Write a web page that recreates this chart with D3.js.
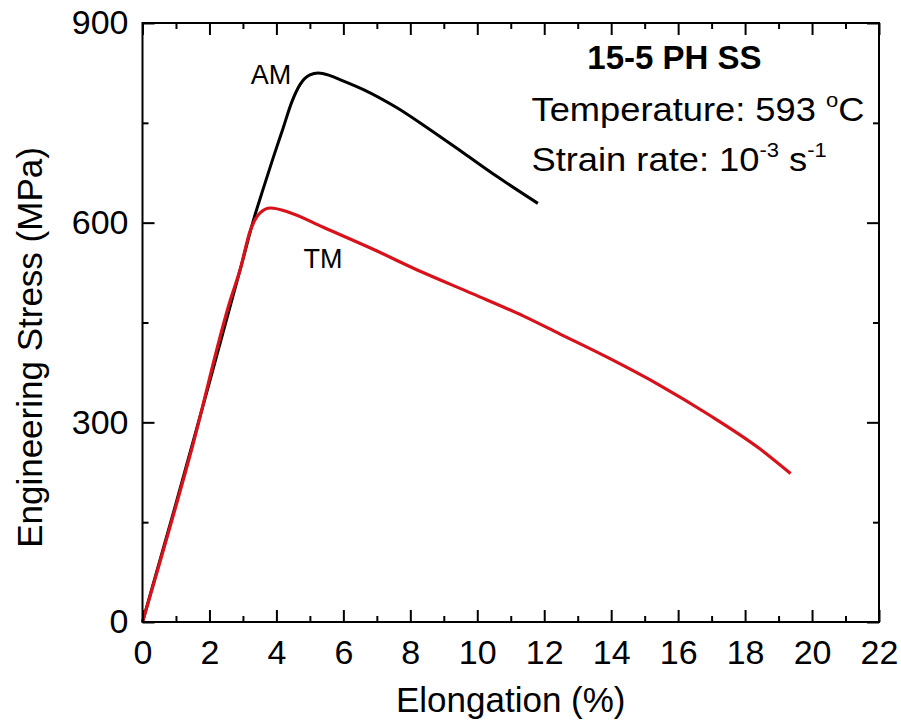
<!DOCTYPE html>
<html lang="en">
<head>
  <meta charset="UTF-8">
  <title>15-5 PH SS</title>
  <style>
    body { margin: 0; background: #fff; }
    svg { display: block; font-family: Arial, "Liberation Sans", sans-serif; }
  </style>
</head>
<body>
  <script src="https://d3js.org/d3.v7.min.js"></script>
  <script>
    // AM (as machined) curve
    const amElong  = [0, 1.0, 2.0, 3.0, 3.31, 3.6, 3.9, 4.2, 4.45, 4.7, 5.0, 5.25, 5.6, 5.9, 6.6, 7.59, 8.58, 9.58, 10.57, 11.81]
    const amStress = [0, 178, 360, 545, 603, 650, 697, 742, 780, 807, 822, 825, 821, 815, 800, 773, 740, 705, 670, 629]

    // TM curve
    const tmElong  = [0, 1.46, 2.62, 2.92, 3.22, 3.52, 3.82, 4.41, 5.4, 6.89, 8.38, 9.87, 11.37, 12.46, 13.95, 15.44, 16.93, 18.42, 19.36]
    const tmStress = [0, 258, 483, 530, 588, 615, 622, 615, 593, 560, 525, 493, 460, 433, 396, 356, 311, 261, 223]

    const xTicks = [0, 2, 4, 6, 8, 10, 12, 14, 16, 18, 20, 22]
    const xMinor = [1, 3, 5, 7, 9, 11, 13, 15, 17, 19, 21]
    const yTicks = [0, 300, 600, 900]
    const yMinor = [150, 450, 750]

    const width = 901, height = 721
    const m = { left: 142.5, right: 22, top: 23, bottom: 99 }

    const x = d3.scaleLinear().domain([0, 22]).range([m.left, width - m.right])
    const y = d3.scaleLinear().domain([0, 900]).range([height - m.bottom, m.top])

    const svg = d3.select('body').append('svg')
      .attr('width', width)
      .attr('height', height)

    const line = d3.line()
      .x(d => x(d[0]))
      .y(d => y(d[1]))
      .curve(d3.curveMonotoneX)

    const am = amElong.map((e, i) => [e, amStress[i]])
    const tm = tmElong.map((e, i) => [e, tmStress[i]])

    svg.append('path')
      .datum(am)
      .attr('fill', 'none')
      .attr('stroke', '#000')
      .attr('stroke-width', 3)
      .attr('d', line)

    svg.append('path')
      .datum(tm)
      .attr('fill', 'none')
      .attr('stroke', '#d8121b')
      .attr('stroke-width', 3.2)
      .attr('d', line)

    // axes: ticks inward on all four sides
    const tickFont = 34
    const axBottom = svg.append('g').attr('transform', `translate(0,${y(0)})`)
    axBottom.call(d3.axisBottom(x).tickValues(xTicks).tickSizeInner(-12).tickSizeOuter(0).tickPadding(18))
    axBottom.append('g').call(d3.axisBottom(x).tickValues(xMinor).tickSize(-6).tickFormat(''))

    const axTop = svg.append('g').attr('transform', `translate(0,${y(900)})`)
    axTop.call(d3.axisTop(x).tickValues(xTicks).tickSize(-12).tickFormat(''))
    axTop.append('g').call(d3.axisTop(x).tickValues(xMinor).tickSize(-6).tickFormat(''))

    const axLeft = svg.append('g').attr('transform', `translate(${x(0)},0)`)
    axLeft.call(d3.axisLeft(y).tickValues(yTicks).tickSizeInner(-12).tickSizeOuter(0).tickPadding(14))
    axLeft.append('g').call(d3.axisLeft(y).tickValues(yMinor).tickSize(-6).tickFormat(''))

    const axRight = svg.append('g').attr('transform', `translate(${x(22)},0)`)
    axRight.call(d3.axisRight(y).tickValues(yTicks).tickSize(-12).tickFormat(''))
    axRight.append('g').call(d3.axisRight(y).tickValues(yMinor).tickSize(-6).tickFormat(''))

    svg.selectAll('.domain').remove()
    svg.selectAll('.tick line').attr('stroke', '#000').attr('stroke-width', 2)
    svg.selectAll('.tick text')
      .attr('font-size', tickFont)
      .attr('font-family', 'Arial, "Liberation Sans", sans-serif')
      .attr('fill', '#000')

    // frame
    svg.append('rect')
      .attr('x', x(0)).attr('y', y(900))
      .attr('width', x(22) - x(0)).attr('height', y(0) - y(900))
      .attr('fill', 'none').attr('stroke', '#000').attr('stroke-width', 2)

    // axis titles
    svg.append('text')
      .attr('x', (x(0) + x(22)) / 2)
      .attr('y', 712)
      .attr('text-anchor', 'middle')
      .attr('font-size', 35)
      .text('Elongation (%)')

    svg.append('text')
      .attr('transform', `translate(42,${(y(0) + y(900)) / 2 + 25}) rotate(-90)`)
      .attr('text-anchor', 'middle')
      .attr('font-size', 35)
      .text('Engineering Stress (MPa)')

    // curve labels
    svg.append('text')
      .attr('x', x(3.84)).attr('y', y(808))
      .attr('text-anchor', 'middle')
      .attr('font-size', 27)
      .text('AM')

    svg.append('text')
      .attr('x', x(5.39)).attr('y', y(532))
      .attr('text-anchor', 'middle')
      .attr('font-size', 27)
      .text('TM')

    // annotation
    svg.append('text')
      .attr('x', x(15.89)).attr('y', y(831))
      .attr('text-anchor', 'middle')
      .attr('font-size', 33)
      .attr('font-weight', 'bold')
      .text('15-5 PH SS')

    // stretched a bit sideways, like the original
    const note = svg.append('g')
      .attr('transform', `translate(${x(11.62)},0) scale(1.1,1)`)

    const t1 = note.append('text')
      .attr('x', 0).attr('y', y(753))
      .attr('font-size', 33)
    t1.append('tspan').text('Temperature: 593 ')
    t1.append('tspan').attr('font-size', 20).attr('dy', -14).text('o')
    t1.append('tspan').attr('dy', 14).text('C')

    const t2 = note.append('text')
      .attr('x', 0).attr('y', y(678))
      .attr('font-size', 33)
    t2.append('tspan').text('Strain rate: 10')
    t2.append('tspan').attr('font-size', 20).attr('dy', -14).text('-3')
    t2.append('tspan').attr('dy', 14).text(' s')
    t2.append('tspan').attr('font-size', 20).attr('dy', -14).text('-1')
  </script>
</body>
</html>
